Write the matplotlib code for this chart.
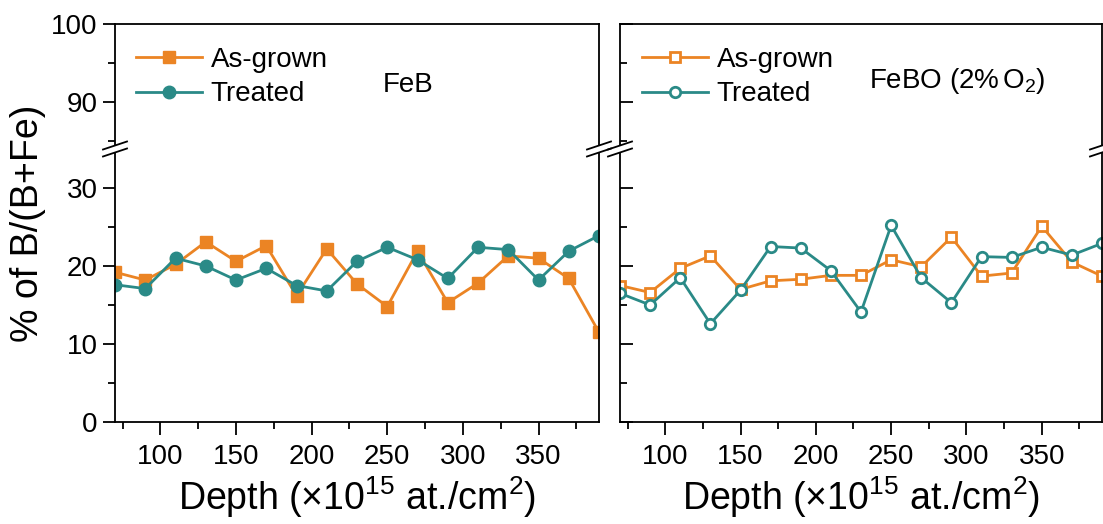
import matplotlib
matplotlib.use('Agg')
import matplotlib.pyplot as plt
from matplotlib.lines import Line2D
from matplotlib.patches import Polygon

plt.rcParams['font.family'] = ['Liberation Sans', 'DejaVu Sans']
plt.rcParams['mathtext.fontset'] = 'custom'
plt.rcParams['mathtext.rm'] = 'Liberation Sans'
plt.rcParams['mathtext.it'] = 'Liberation Sans:italic'

# depth points (x10^15 at./cm2)
depth = [70, 90, 110, 130, 150, 170, 190, 210, 230, 250, 270, 290, 310, 330, 350, 370, 390]

feb_grown = [19.2, 18.2, 20.2, 23.1, 20.6, 22.6, 16.2, 22.2, 17.7, 14.8, 21.9, 15.3, 17.8, 21.3, 21.0, 18.4, 11.5]
feb_treated = [17.6, 17.1, 21.0, 20.0, 18.2, 19.7, 17.5, 16.8, 20.6, 22.4, 20.8, 18.4, 22.4, 22.1, 18.2, 21.9, 23.9]

febo_grown = [17.5, 16.6, 19.7, 21.3, 17.0, 18.1, 18.3, 18.8, 18.8, 20.8, 19.9, 23.7, 18.7, 19.1, 25.1, 20.5, 18.7]
febo_treated = [16.5, 15.0, 18.5, 12.6, 16.9, 22.5, 22.3, 19.4, 14.1, 25.2, 18.5, 15.3, 21.2, 21.1, 22.4, 21.4, 22.9]

ORANGE = '#EB8424'
TEAL = '#2A8A87'

W, H = 1103, 524
fig = plt.figure(figsize=(W / 100, H / 100), dpi=100)


def rect(l, r, t, b):
    return [l / W, 1 - b / H, (r - l) / W, (b - t) / H]


def px(x, y):
    return (x / W, 1 - y / H)


TOP, BRK, BOT = 24, 149, 422
panels = [(115, 599), (620, 1102)]


def make_panel(l, r, inner):
    ax_t = fig.add_axes(rect(l, r, TOP, BRK))
    ax_b = fig.add_axes(rect(l, r, BRK, BOT))
    ax_t.set_ylim(84, 100)
    ax_b.set_ylim(0, 35)
    for ax in (ax_t, ax_b):
        ax.set_xlim(70, 390)
        for s in ax.spines.values():
            s.set_linewidth(1.3)
        ax.tick_params(which='both', right=False, top=False, width=1.3,
                       labelsize=20, direction='in' if inner else 'out')
        ax.tick_params(which='major', length=9)
        ax.tick_params(which='minor', length=5)
        if inner:
            ax.tick_params(axis='y', labelleft=False)
    ax_t.spines['bottom'].set_visible(False)
    ax_b.spines['top'].set_visible(False)
    ax_t.set_yticks([90, 100])
    ax_t.set_yticks([85, 95], minor=True)
    ax_t.set_xticks([])
    ax_b.set_yticks([0, 10, 20, 30])
    ax_b.set_yticks([5, 15, 25], minor=True)
    ax_b.set_xticks([100, 150, 200, 250, 300, 350])
    ax_b.set_xticks([75, 125, 175, 225, 275, 325, 375], minor=True)
    ax_b.tick_params(axis='x', which='both', direction='out', pad=7)
    ax_b.set_xlabel('Depth ($\\times$10$^{15}$ at./cm$^2$)', fontsize=27, labelpad=3)
    return ax_t, ax_b


def break_marks(x0, y0):
    dx, dy, gap = 12, 4, 3.5
    poly = Polygon([px(x0 - dx, y0 - gap + dy), px(x0 + dx, y0 - gap - dy),
                    px(x0 + dx, y0 + gap - dy), px(x0 - dx, y0 + gap + dy)],
                   closed=True, transform=fig.transFigure, facecolor='white',
                   edgecolor='none', zorder=10, clip_on=False)
    fig.add_artist(poly)
    for g in (-gap, gap):
        (xa, ya), (xb, yb) = px(x0 - dx, y0 + g + dy), px(x0 + dx, y0 + g - dy)
        fig.add_artist(Line2D([xa, xb], [ya, yb], transform=fig.transFigure,
                              color='black', lw=1.3, zorder=11, clip_on=False))


LW = 2.0

# FeB panel
axL_t, axL_b = make_panel(*panels[0], inner=False)
axL_b.plot(depth, feb_grown, '-s', color=ORANGE, lw=LW, ms=8.5)
axL_b.plot(depth, feb_treated, '-o', color=TEAL, lw=LW, ms=9)
hL = [Line2D([], [], color=ORANGE, lw=LW, marker='s', ms=8.5),
      Line2D([], [], color=TEAL, lw=LW, marker='o', ms=9)]
axL_t.legend(hL, ['As-grown', 'Treated'], loc='upper left', bbox_to_anchor=(0.043, 0.815),
             frameon=False, fontsize=20, borderpad=0, borderaxespad=0,
             handlelength=2.4, handletextpad=0.3, labelspacing=0.3)
axL_t.text(0.605, 0.51, 'FeB', transform=axL_t.transAxes, fontsize=20,
           ha='center', va='center')

# FeBO panel
axR_t, axR_b = make_panel(*panels[1], inner=True)
axR_b.plot(depth, febo_grown, '-s', color=ORANGE, lw=LW, ms=7, mew=2, mfc='white')
axR_b.plot(depth, febo_treated, '-o', color=TEAL, lw=LW, ms=7.5, mew=2, mfc='white')
hR = [Line2D([], [], color=ORANGE, lw=LW, marker='s', ms=7, mew=2, mfc='white'),
      Line2D([], [], color=TEAL, lw=LW, marker='o', ms=7.5, mew=2, mfc='white')]
axR_t.legend(hR, ['As-grown', 'Treated'], loc='upper left', bbox_to_anchor=(0.045, 0.815),
             frameon=False, fontsize=20, borderpad=0, borderaxespad=0,
             handlelength=2.4, handletextpad=0.3, labelspacing=0.3)
axR_t.text(0.70, 0.54, 'FeBO (2%$\\,$O$_2$)', transform=axR_t.transAxes, fontsize=20,
           ha='center', va='center')

fig.text(px(28, 0)[0], px(0, 223)[1], '% of B/(B+Fe)', rotation=90, fontsize=27,
         ha='center', va='center')

for l, r in panels:
    break_marks(l, BRK)
    break_marks(r, BRK)

fig.savefig('out.png', dpi=100)
